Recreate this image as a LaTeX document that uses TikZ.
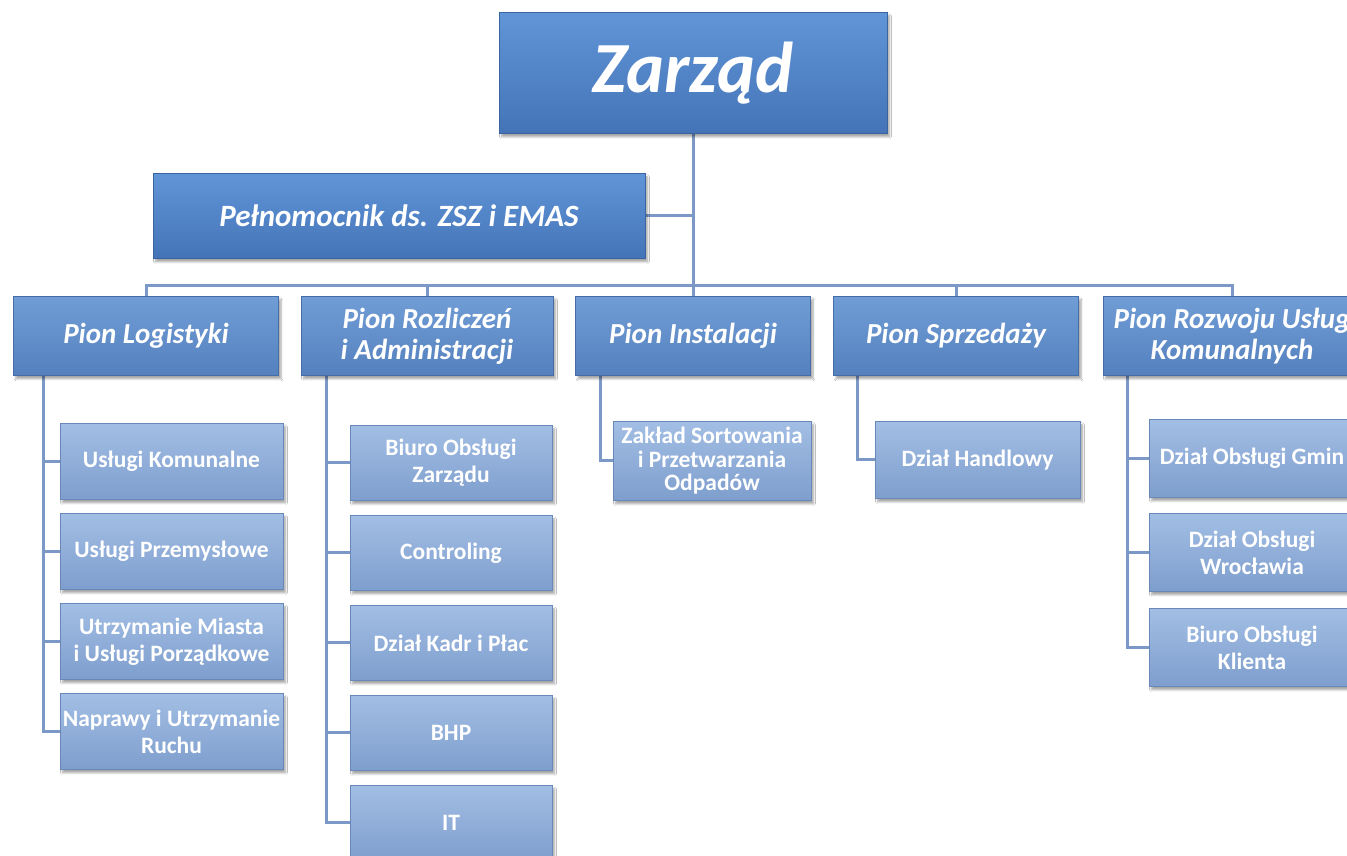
\documentclass[tikz,border=0pt]{standalone}
\usepackage{fontspec}
\setmainfont{Carlito}
\usetikzlibrary{shadows.blur,backgrounds}
\definecolor{aTop}{RGB}{96,149,215}
\definecolor{aBot}{RGB}{68,116,183}
\definecolor{aEdge}{RGB}{58,100,160}
\definecolor{bTop}{RGB}{113,157,214}
\definecolor{bBot}{RGB}{84,128,190}
\definecolor{bEdge}{RGB}{70,108,165}
\definecolor{cTop}{RGB}{162,190,228}
\definecolor{cBot}{RGB}{126,158,205}
\definecolor{cEdge}{RGB}{104,136,185}
\definecolor{lineC}{RGB}{124,152,198}
\tikzset{
  box/.style={anchor=north, inner sep=1pt, align=center, text=white,
    line width=0.8pt,
    blur shadow={shadow xshift=2.5pt, shadow yshift=-3.5pt, shadow blur steps=6, shadow opacity=35}},
  topbox/.style={box, draw=aEdge, top color=aTop, bottom color=aBot},
  midbox/.style={box, draw=bEdge, top color=bTop, bottom color=bBot,
    font=\fontsize{29}{31}\selectfont\bfseries\itshape},
  lowbox/.style={box, draw=cEdge, top color=cTop, bottom color=cBot,
    font=\fontsize{23.5}{27}\selectfont\bfseries},
  zfont/.style={font=\fontsize{72}{78}\selectfont\bfseries\itshape},
  pfont/.style={font=\fontsize{31}{34}\selectfont\bfseries\itshape},
  conn/.style={draw=lineC, line width=3pt, line join=miter}
}
\begin{document}
\begin{tikzpicture}[x=1pt,y=-1pt]
\useasboundingbox (0,0) rectangle (1347,856);
\clip (0,0) rectangle (1347,856);
% top level
\node[topbox, zfont, minimum width=388pt, minimum height=121pt] (zarzad) at (693,12) {Zarząd};
\node[topbox, pfont, minimum width=492pt, minimum height=85pt] (pel) at (399,173) {Pełnomocnik ds. ZSZ i EMAS};
% level 2
\node[midbox, minimum width=265pt, minimum height=79pt] (logi) at (146,296) {Pion Logistyki};
\node[midbox, minimum width=252pt, minimum height=79pt] (rozl) at (427,296) {Pion Rozliczeń\\i Administracji};
\node[midbox, minimum width=235pt, minimum height=79pt] (inst) at (693,296) {Pion Instalacji};
\node[midbox, minimum width=245pt, minimum height=79pt] (sprz) at (956,296) {Pion Sprzedaży};
\node[midbox, minimum width=258pt, minimum height=79pt] (rozw) at (1232,296) {Pion Rozwoju Usług\\Komunalnych};
% Logistyki children
\node[lowbox, minimum width=223pt, minimum height=76pt] (l1) at (171.5,423) {Usługi Komunalne};
\node[lowbox, minimum width=223pt, minimum height=76pt] (l2) at (171.5,513) {Usługi Przemysłowe};
\node[lowbox, minimum width=223pt, minimum height=76pt] (l3) at (171.5,603) {Utrzymanie Miasta\\i Usługi Porządkowe};
\node[lowbox, minimum width=223pt, minimum height=76pt] (l4) at (171.5,693) {Naprawy i Utrzymanie\\Ruchu};
% Rozliczen children
\node[lowbox, minimum width=202pt, minimum height=75pt] (r1) at (451,425) {Biuro Obsługi\\Zarządu};
\node[lowbox, minimum width=202pt, minimum height=75pt] (r2) at (451,515) {Controling};
\node[lowbox, minimum width=202pt, minimum height=75pt] (r3) at (451,605) {Dział Kadr i Płac};
\node[lowbox, minimum width=202pt, minimum height=75pt] (r4) at (451,695) {BHP};
\node[lowbox, minimum width=202pt, minimum height=75pt] (r5) at (451,785) {IT};
% Instalacji child
\node[lowbox, minimum width=198pt, minimum height=79pt, font=\fontsize{23.5}{23.5}\selectfont\bfseries] (i1) at (712,421) {Zakład Sortowania\\i Przetwarzania\\Odpadów};
% Sprzedazy child
\node[lowbox, minimum width=205pt, minimum height=77pt] (s1) at (977.5,421) {Dział Handlowy};
% Rozwoju children
\node[lowbox, minimum width=206pt, minimum height=78pt] (w1) at (1252,419) {Dział Obsługi Gmin};
\node[lowbox, minimum width=206pt, minimum height=78pt] (w2) at (1252,513) {Dział Obsługi\\Wrocławia};
\node[lowbox, minimum width=206pt, minimum height=78pt] (w3) at (1252,608) {Biuro Obsługi\\Klienta};
% connectors
\begin{scope}[on background layer]
\fill[white] (0,0) rectangle (1347,856);
\coordinate (bus) at (0,285);
\draw[conn] (zarzad.south) -- (zarzad.south |- bus);
\draw[conn] (pel.east) -- (pel.east -| zarzad.south);
\draw[conn] (logi.north) -- (logi.north |- bus) -- (rozw.north |- bus) -- (rozw.north);
\draw[conn] (rozl.north) -- (rozl.north |- bus);
\draw[conn] (inst.north) -- (inst.north |- bus);
\draw[conn] (sprz.north) -- (sprz.north |- bus);
\foreach \c in {l1,l2,l3,l4} \draw[conn] ([xshift=30pt]logi.south west) |- (\c.west);
\foreach \c in {r1,r2,r3,r4,r5} \draw[conn] ([xshift=26pt]rozl.south west) |- (\c.west);
\draw[conn] ([xshift=25.5pt]inst.south west) |- (i1.west);
\draw[conn] ([xshift=24.5pt]sprz.south west) |- (s1.west);
\foreach \c in {w1,w2,w3} \draw[conn] ([xshift=25pt]rozw.south west) |- (\c.west);
\end{scope}
\end{tikzpicture}
\end{document}
